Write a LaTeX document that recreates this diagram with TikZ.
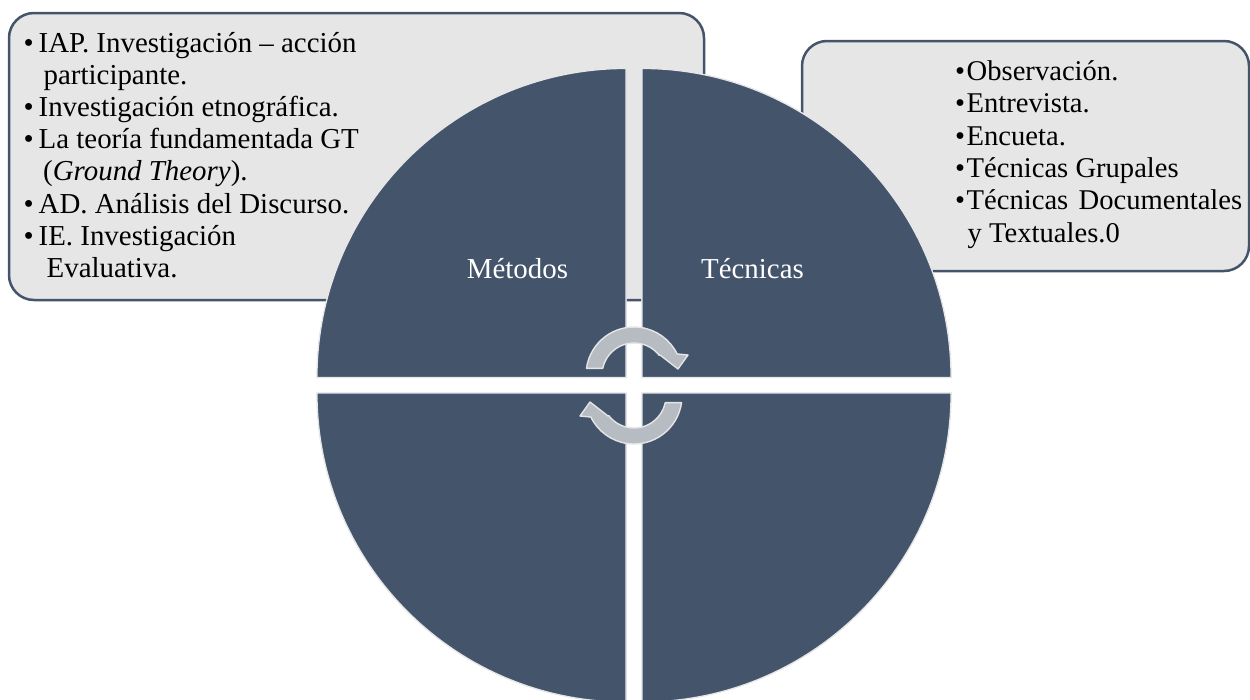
\documentclass[tikz,border=0pt]{standalone}
\usepackage{fontspec}
\setmainfont{Liberation Serif}
\definecolor{slate}{HTML}{44546A}
\definecolor{panel}{HTML}{E7E6E6}
\definecolor{quadedge}{HTML}{E6E7E9}
\definecolor{arrowfill}{HTML}{B7BBC2}
\definecolor{arrowedge}{HTML}{E4E5E7}
\newcommand{\bul}[1]{\makebox[#1][l]{•}}
\tikzset{
  panelbox/.style={draw=slate, fill=panel, line width=2.5pt, rounded corners=25pt},
  quad/.style={fill=slate, draw=quadedge, line width=1.2pt},
  cyclearrow/.style={fill=arrowfill, draw=arrowedge, line width=1.4pt, line join=round},
  listtext/.style={anchor=base west, inner sep=0pt, text=black},
  quadlabel/.style={anchor=base, inner sep=0pt, text=white, font=\fontsize{28.9}{32}\selectfont}
}
\begin{document}
\begin{tikzpicture}[x=1pt, y=-1pt]
\useasboundingbox (0,0) rectangle (1250,699);

% side panels (behind the circle)
\draw[panelbox] (9,13) rectangle (704,300);
\draw[panelbox] (802,41) rectangle (1249,271);

% list of methods
\node[listtext, font=\fontsize{28.9}{32.2}\selectfont] (metlist) at (23.5,52) {\vtop{\baselineskip=32.2pt
  \hbox{\bul{15pt}IAP. Investigación – acción}
  \hbox{\hspace*{20pt}participante.}
  \hbox{\bul{15pt}Investigación etnográfica.}
  \hbox{\bul{15pt}La teoría fundamentada GT}
  \hbox{\hspace*{19.5pt}(\textit{Ground Theory}).}
  \hbox{\bul{15pt}AD. Análisis del Discurso.}
  \hbox{\bul{15pt}IE. Investigación}
  \hbox{\hspace*{23pt}Evaluativa.}}};

% list of techniques
\node[listtext, font=\fontsize{28.6}{32.3}\selectfont] (teclist) at (955,80.5) {\vtop{\baselineskip=32.3pt
  \hbox{\bul{11.5pt}Observación.}
  \hbox{\bul{11.5pt}Entrevista.}
  \hbox{\bul{11.5pt}Encueta.}
  \hbox{\bul{11.5pt}Técnicas Grupales}
  \hbox to 287pt{\bul{11.5pt}Técnicas Documentales}
  \hbox{\hspace*{12.5pt}y Textuales.0}}};

% four quarter discs
\fill[quad] (626,377.5) -- (317,377.5) arc[start angle=180, end angle=270, radius=309] -- cycle;
\fill[quad] (642,377.5) -- (642,68.5) arc[start angle=270, end angle=360, radius=309] -- cycle;
\fill[quad] (642,393) -- (951,393) arc[start angle=0, end angle=90, radius=309] -- cycle;
\fill[quad] (626,393) -- (626,702) arc[start angle=90, end angle=180, radius=309] -- cycle;
\draw[quad] (626,377.5) -- (317,377.5) arc[start angle=180, end angle=270, radius=309] -- cycle;
\draw[quad] (642,377.5) -- (642,68.5) arc[start angle=270, end angle=360, radius=309] -- cycle;
\draw[quad] (642,393) -- (951,393) arc[start angle=0, end angle=90, radius=309] -- cycle;
\draw[quad] (626,393) -- (626,702) arc[start angle=90, end angle=180, radius=309] -- cycle;

\node[quadlabel] (metodos) at (517.5,278) {Métodos};
\node[quadlabel] (tecnicas) at (752.5,278) {Técnicas};

% two identical circular arrows, the lower one turned by 180 degrees
\coordinate (cup) at (634,375);
\coordinate (clow) at (634,396);
\draw[cyclearrow] ([shift={(-172:48)}]cup) arc[start angle=-172, end angle=-26, radius=48]
  -- (688,355) -- (678,369) -- (660,355)
  -- ([shift={(-38:32)}]cup) arc[start angle=-38, end angle=-168, radius=32] -- cycle;
\draw[cyclearrow] ([shift={(8:48)}]clow) arc[start angle=8, end angle=154, radius=48]
  -- (580,416) -- (590,402) -- (608,416)
  -- ([shift={(142:32)}]clow) arc[start angle=142, end angle=12, radius=32] -- cycle;
\end{tikzpicture}
\end{document}
